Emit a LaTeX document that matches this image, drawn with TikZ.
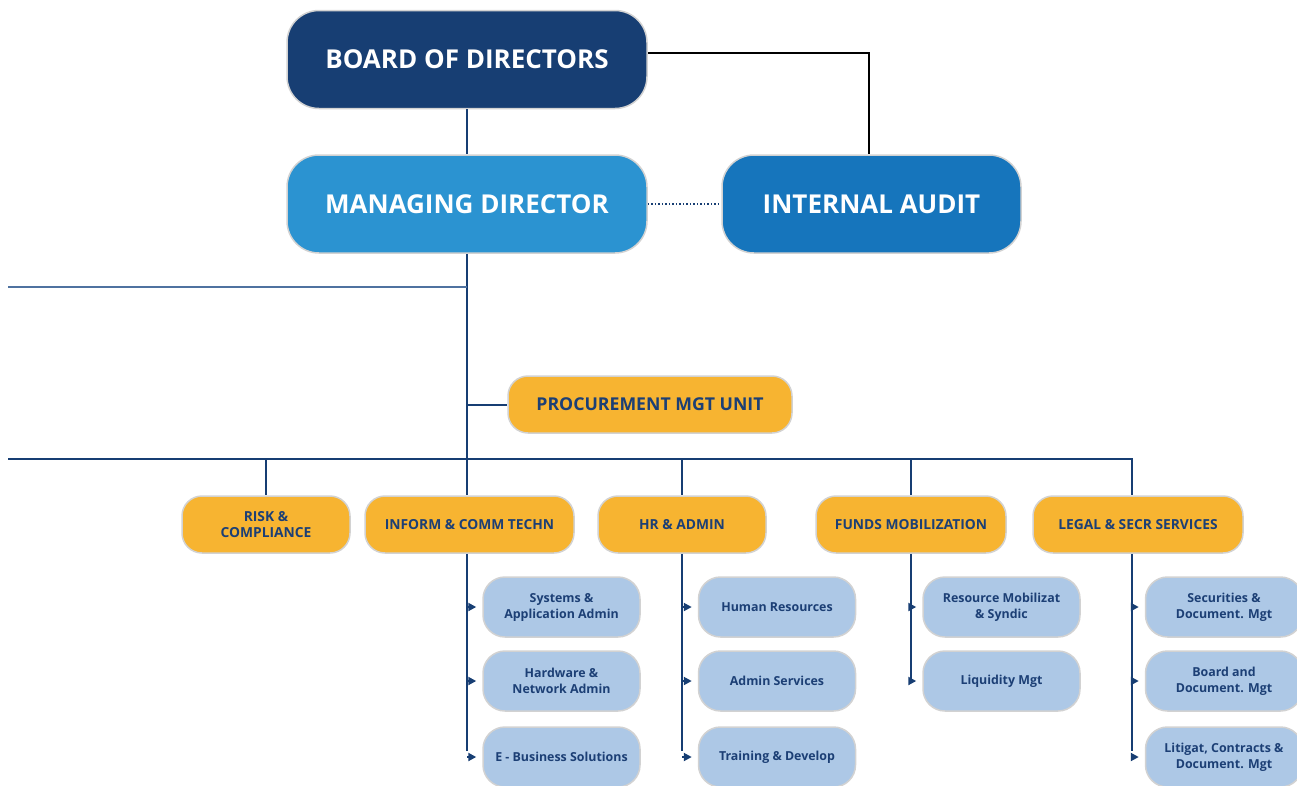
\documentclass[tikz,border=0pt]{standalone}
\usepackage{fontspec}
\setmainfont{Open Sans}
\usetikzlibrary{arrows.meta,calc}
\definecolor{navy}{HTML}{173E73}
\definecolor{mdblue}{HTML}{2B93D1}
\definecolor{iablue}{HTML}{1675BC}
\definecolor{orange}{HTML}{F7B431}
\definecolor{light}{HTML}{ADC8E6}
\definecolor{txtnavy}{HTML}{1C3F75}
\definecolor{edge}{HTML}{D2D2D2}
\definecolor{paleline}{HTML}{4F72A0}
\tikzset{
  box/.style={draw=edge, line width=1.5pt, align=center, inner sep=0pt, font=\bfseries},
  topbox/.style={box, minimum height=98pt, rounded corners=32pt, text=white, font=\bfseries\fontsize{26}{30}\selectfont},
  unitbox/.style={box, fill=orange, minimum height=57pt, rounded corners=20pt, text=txtnavy, font=\bfseries\fontsize{13.8}{16.5}\selectfont},
  subbox/.style={box, fill=light, minimum width=157pt, minimum height=60pt, rounded corners=22pt, text=txtnavy, font=\bfseries\fontsize{12.4}{16}\selectfont},
  link/.style={draw=navy, line width=2pt},
  sublink/.style={link, -{Triangle[length=8pt,width=8pt]}},
}
\begin{document}
\begin{tikzpicture}[x=1pt,y=-1pt]
\useasboundingbox (0,0) rectangle (1297,785);
% top level
\node[topbox, fill=navy, minimum width=360pt] (bod) at (467,59.5) {BOARD OF DIRECTORS};
\node[topbox, fill=mdblue, minimum width=360pt] (md) at (467,204) {MANAGING DIRECTOR};
\node[topbox, fill=iablue, minimum width=299pt] (ia) at (871.5,204) {INTERNAL AUDIT};
\node[unitbox, minimum width=284pt, font=\bfseries\fontsize{17.7}{20}\selectfont] (proc) at (650,404.5) {PROCUREMENT MGT UNIT};
% units
\node[unitbox, minimum width=168pt] (risk) at (266,524.5) {RISK \&\\COMPLIANCE};
\node[unitbox, minimum width=209pt] (ict) at (469.5,524.5) {INFORM \& COMM TECHN};
\node[unitbox, minimum width=168pt] (hr) at (682,524.5) {HR \& ADMIN};
\node[unitbox, minimum width=190pt] (funds) at (911,524.5) {FUNDS MOBILIZATION};
\node[unitbox, minimum width=210pt] (legal) at (1138,524.5) {LEGAL \& SECR SERVICES};
% sub units
\node[subbox] (ict1) at (561.5,607) {Systems \&\\Application Admin};
\node[subbox] (ict2) at (561.5,681) {Hardware \&\\Network Admin};
\node[subbox] (ict3) at (561.5,757) {E - Business Solutions};
\node[subbox] (hr1) at (777,607) {Human Resources};
\node[subbox] (hr2) at (777,681) {Admin Services};
\node[subbox] (hr3) at (777,757) {Training \& Develop};
\node[subbox] (fm1) at (1001.5,607) {Resource Mobilizat\\\& Syndic};
\node[subbox] (fm2) at (1001.5,681) {Liquidity Mgt};
\node[subbox] (lg1) at (1224,607) {Securities \&\\Document. Mgt};
\node[subbox] (lg2) at (1224,681) {Board and\\Document. Mgt};
\node[subbox] (lg3) at (1224,757) {Litigat, Contracts \&\\Document. Mgt};
% coordinates
\coordinate (leftA) at (8,287);
\coordinate (busL) at (8,459);
\coordinate (lgx) at (1132,459);
\coordinate (iax) at (869,53);
% top connectors
\draw[link] (bod.south) -- (md.north);
\draw[draw=black, line width=2pt] (bod.east |- iax) -- (iax) -- (iax |- ia.north);
\draw[draw=navy, line width=1.5pt, dotted] (md.east) -- (ia.west);
\draw[link] (md.south) -- (md.south |- ict.north);
\draw[draw=paleline, line width=2pt] (leftA) -- (md.south |- leftA);
\draw[link] (md.south |- proc.west) -- (proc.west);
% bus
\draw[link] (busL) -- (lgx) -- (lgx |- legal.north);
\draw[link] (risk.north |- busL) -- (risk.north);
\draw[link] (hr.north |- busL) -- (hr.north);
\draw[link] (funds.north |- busL) -- (funds.north);
% sub trunks
\draw[link] (md.south |- ict.south) -- ([yshift=6pt]md.south |- ict3.west);
\draw[link] (hr.south) -- ([yshift=6pt]hr.south |- hr3.west);
\draw[link] (funds.south) -- ([yshift=2pt]funds.south |- fm2.west);
\draw[link] (lgx |- legal.south) -- ([yshift=6pt]lgx |- lg3.west);
% arrows
\foreach \n in {ict1,ict2,ict3} \draw[sublink] (md.south |- \n.west) -- ([xshift=-6pt]\n.west);
\foreach \n in {hr1,hr2,hr3} \draw[sublink] (hr.south |- \n.west) -- ([xshift=-6pt]\n.west);
\foreach \n in {fm1,fm2} \draw[sublink] (funds.south |- \n.west) -- ([xshift=-6pt]\n.west);
\foreach \n in {lg1,lg2,lg3} \draw[sublink] (lgx |- \n.west) -- ([xshift=-6pt]\n.west);
\end{tikzpicture}
\end{document}
